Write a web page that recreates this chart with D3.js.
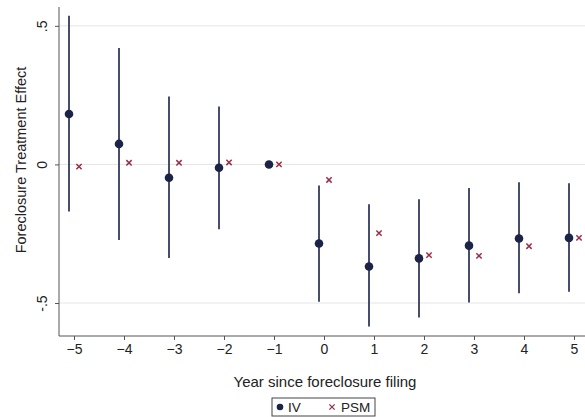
<!DOCTYPE html>
<html>
<head>
<meta charset="utf-8">
<script src="https://cdn.jsdelivr.net/npm/d3@7"></script>
<style>
  body { margin: 0; background: #fff; }
  svg { font-family: "Liberation Sans", Arial, sans-serif; }
</style>
</head>
<body>
<svg></svg>
<script>
// event-study estimates
const years = [-5, -4, -3, -2, -1, 0, 1, 2, 3, 4, 5];
const ivEst = [0.182, 0.074, -0.048, -0.012, 0, -0.285, -0.368, -0.339, -0.293, -0.267, -0.265];
const ivLow = [-0.170, -0.273, -0.338, -0.234, 0, -0.495, -0.585, -0.552, -0.498, -0.465, -0.459];
const ivHigh = [0.536, 0.420, 0.245, 0.209, 0, -0.076, -0.144, -0.126, -0.085, -0.064, -0.068];
const psmEst = [-0.008, 0.006, 0.006, 0.007, 0, -0.056, -0.248, -0.327, -0.330, -0.295, -0.265];
const yTicks = [-0.5, 0, 0.5];
const yTickLabels = ['-.5', '0', '.5'];

const width = 585, height = 417;
const margin = {top: 7, right: 0, bottom: 81, left: 59};
const navy = '#1b2447', barCol = '#464d6d', maroon = '#9b2d45';

const svg = d3.select('svg')
    .attr('width', width)
    .attr('height', height);

const x = d3.scaleLinear()
    .domain([-5.3, 5.3])
    .range([margin.left, margin.left + 530]);

const y = d3.scaleLinear()
    .domain([-0.619, 0.568])
    .range([height - margin.bottom, margin.top]);

// gridlines
svg.append('g')
  .selectAll('line')
  .data(yTicks)
  .enter()
  .append('line')
    .attr('x1', margin.left)
    .attr('x2', width)
    .attr('y1', d => y(d))
    .attr('y2', d => y(d))
    .attr('stroke', '#e6e6e6')
    .attr('stroke-width', 1);

// y axis
const yAxis = svg.append('g')
    .attr('transform', `translate(${margin.left},0)`)
    .call(d3.axisLeft(y).tickValues(yTicks).tickSize(4)
      .tickFormat((d, i) => yTickLabels[i]));
yAxis.select('.domain').attr('stroke', '#555').attr('d', `M0,${y.range()[0]}V${y.range()[1]}`);
yAxis.selectAll('.tick line').attr('stroke', '#555');
yAxis.selectAll('.tick text')
    .attr('font-size', 14)
    .attr('fill', '#222')
    .attr('transform', 'rotate(-90)')
    .attr('x', 0)
    .attr('y', -12)
    .attr('text-anchor', 'middle')
    .attr('dy', '0');

// x axis
const xAxis = svg.append('g')
    .attr('transform', `translate(0,${height - margin.bottom})`)
    .call(d3.axisBottom(x).tickValues(years).tickSize(4).tickFormat(d3.format('d')));
xAxis.select('.domain').attr('stroke', '#555').attr('d', `M${margin.left},0H${width}`);
xAxis.selectAll('.tick line').attr('stroke', '#555');
xAxis.selectAll('.tick text')
    .attr('font-size', 14)
    .attr('fill', '#222')
    .attr('y', 8);

// axis titles
svg.append('text')
    .attr('x', 325)
    .attr('y', 387)
    .attr('text-anchor', 'middle')
    .attr('font-size', 15)
    .attr('fill', '#222')
    .text('Year since foreclosure filing');

svg.append('text')
    .attr('transform', 'translate(26,160) rotate(-90)')
    .attr('text-anchor', 'middle')
    .attr('font-size', 14.5)
    .attr('fill', '#222')
    .text('Foreclosure Treatment Effect');

// confidence intervals
svg.append('g')
  .selectAll('line')
  .data(years)
  .enter()
  .append('line')
    .attr('x1', d => x(d - 0.1))
    .attr('x2', d => x(d - 0.1))
    .attr('y1', (d, i) => y(ivLow[i]))
    .attr('y2', (d, i) => y(ivHigh[i]))
    .attr('stroke', barCol)
    .attr('stroke-width', 2);

// IV points
svg.append('g')
  .selectAll('circle')
  .data(years)
  .enter()
  .append('circle')
    .attr('cx', d => x(d - 0.1))
    .attr('cy', (d, i) => y(ivEst[i]))
    .attr('r', 4.3)
    .attr('fill', navy);

// PSM points
const cross = d3.symbol().type(d3.symbolX).size(20);
svg.append('g')
  .selectAll('path')
  .data(years)
  .enter()
  .append('path')
    .attr('d', cross)
    .attr('transform', (d, i) => `translate(${x(d + 0.1)},${y(psmEst[i])})`)
    .attr('stroke', maroon)
    .attr('stroke-width', 1.5)
    .attr('fill', 'none');

// legend
const lg = svg.append('g').attr('transform', 'translate(272,398)');
lg.append('rect')
    .attr('width', 103)
    .attr('height', 18)
    .attr('fill', '#fff')
    .attr('stroke', '#444');
lg.append('circle').attr('cx', 8).attr('cy', 9).attr('r', 3.3).attr('fill', navy);
lg.append('text').attr('x', 16).attr('y', 14).attr('font-size', 13.5).attr('fill', '#222').text('IV');
lg.append('path').attr('d', cross).attr('transform', 'translate(60,9)')
    .attr('stroke', maroon).attr('stroke-width', 1.3).attr('fill', 'none');
lg.append('text').attr('x', 69).attr('y', 14).attr('font-size', 13.5).attr('fill', '#222').text('PSM');
</script>
</body>
</html>
